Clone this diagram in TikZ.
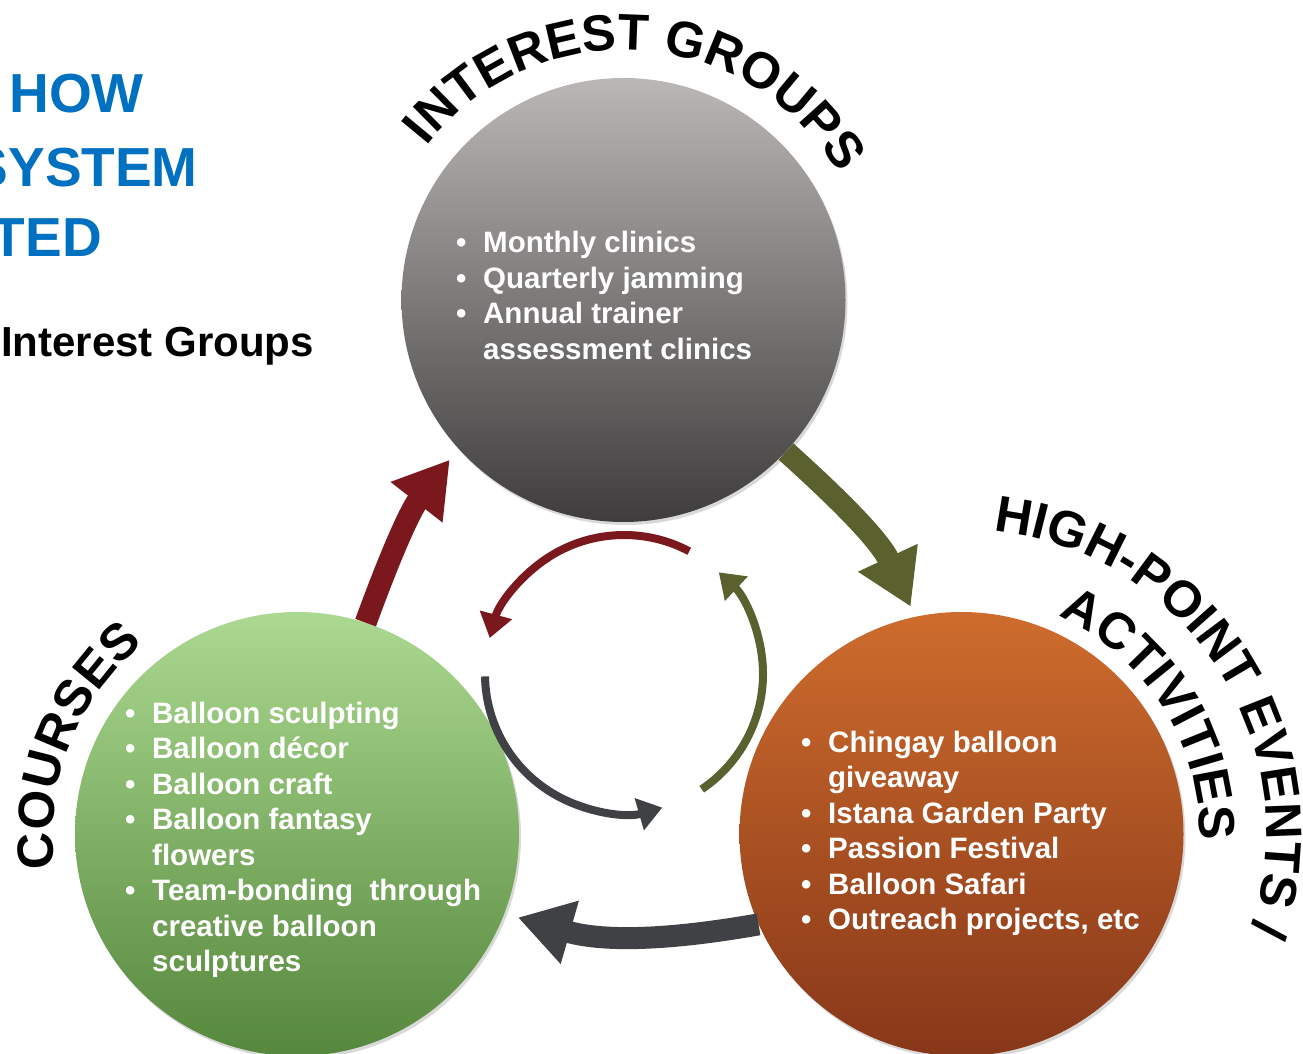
\documentclass[tikz,border=0pt]{standalone}
\usepackage{fontspec}
\setmainfont{Liberation Sans}
\usetikzlibrary{arrows.meta,decorations.text,shadows}
\definecolor{titleblue}{RGB}{0,112,192}
\definecolor{redarr}{RGB}{122,24,30}
\definecolor{olivearr}{RGB}{90,96,46}
\definecolor{darkarr}{RGB}{64,65,68}
\definecolor{greytop}{RGB}{186,183,181}
\definecolor{greymid}{RGB}{138,135,133}
\definecolor{greybot}{RGB}{62,60,60}
\definecolor{greentop}{RGB}{172,217,145}
\definecolor{greenmid}{RGB}{135,188,105}
\definecolor{greenbot}{RGB}{85,135,60}
\definecolor{orangetop}{RGB}{206,108,45}
\definecolor{orangemid}{RGB}{184,88,38}
\definecolor{orangebot}{RGB}{135,55,25}
\newcommand\bul{\makebox[27pt][l]{\textbullet}}
\newcommand\ind{\hspace*{27pt}}
\newcommand\arcfont{\fontsize{51}{51}\selectfont\bfseries}
\tikzset{
  ball/.style={circle,inner sep=0pt,minimum size=444pt,
    drop shadow={opacity=0.3,shadow xshift=2pt,shadow yshift=-3pt}},
  bigarrow/.style={line width=22pt,-{Triangle[length=54pt,width=62pt]}},
  cycarrow/.style={line width=8pt,-{Triangle[length=24pt,width=32pt]}},
  listtext/.style={anchor=base west,inner sep=0pt,text=white,
    font=\fontsize{29.5}{35.5}\selectfont\bfseries},
  titletext/.style={anchor=base east,inner sep=0pt,text=titleblue,
    font=\fontsize{55}{66}\selectfont\bfseries},
  arclabel/.style={decorate,decoration={text along path,text={|\arcfont|#1}}}
}

\begin{document}
\begin{tikzpicture}[x=1pt,y=1pt]
  \useasboundingbox (0,0) rectangle (1303,1053);

  % three circles
  \node[ball,top color=greytop,middle color=greymid,bottom color=greybot] (ig) at (623.5,753) {};
  \node[ball,top color=greentop,middle color=greenmid,bottom color=greenbot] (co) at (297,219) {};
  \node[ball,top color=orangetop,middle color=orangemid,bottom color=orangebot] (hp) at (961.5,219) {};

  % big arrows between the circles
  \draw[bigarrow,redarr,shorten >=14pt] (co.72) to[out=70,in=232] (ig.222);
  \draw[bigarrow,olivearr,shorten >=11pt] (ig.-43) to[out=-42,in=115] (hp.102);
  \draw[bigarrow,darkarr,shorten >=14pt] (hp.204) to[out=190,in=-16] (co.-21);

  % small cycle in the middle
  \coordinate (cyc) at (624,379);
  \draw[cycarrow,redarr] ([shift={(62:139)}]cyc) arc[start angle=62,end angle=165,radius=139];
  \draw[cycarrow,darkarr] ([shift={(181:139)}]cyc) arc[start angle=181,end angle=286,radius=139];
  \draw[cycarrow,olivearr] ([shift={(304:139)}]cyc) arc[start angle=304,end angle=407,radius=139];

  % curved headings
  \path[arclabel={INTEREST GROUPS}] (ig.center) ++(142:250) arc[start angle=142,end angle=15,radius=250];
  \path[arclabel={HIGH-POINT EVENTS /}] (hp.center) ++(84:305) arc[start angle=84,end angle=-40,radius=305];
  \path[arclabel={ACTIVITIES}] (hp.center) ++(66:238) arc[start angle=66,end angle=-30,radius=238];
  \path[arclabel={COURSES}] (co.center) ++(188:244) arc[start angle=188,end angle=110,radius=244];

  % lists
  \foreach \txt [count=\k] in {\bul Monthly clinics,\bul Quarterly jamming,\bul Annual trainer,\ind assessment clinics}
    \node[listtext] (igl\k) at (456,835.5-35.5*\k) {\txt};
  \foreach \txt [count=\k] in {\bul Balloon sculpting,\bul Balloon décor,\bul Balloon craft,\bul Balloon fantasy,\ind flowers,
      \bul Team-bonding\ \ through,\ind creative balloon,\ind sculptures}
    \node[listtext] (col\k) at (125,365.5-35.5*\k) {\txt};
  \foreach \txt [count=\k] in {\bul Chingay balloon,\ind giveaway,\bul Istana Garden Party,\bul Passion Festival,
      \bul Balloon Safari,{\bul Outreach projects, etc}}
    \node[listtext] (hpl\k) at (801,336.5-35.5*\k) {\txt};

  % cut-off title at the left
  \node[titletext] (how) at (144,940) {HOW};
  \node[titletext] (system) at (198,866) {SYSTEM};
  \node[titletext] (ted) at (102,796) {TED};
  \node[anchor=base west,inner sep=0pt,font=\fontsize{42}{50}\selectfont\bfseries] (igtitle) at (1,696) {Interest Groups};
\end{tikzpicture}
\end{document}
